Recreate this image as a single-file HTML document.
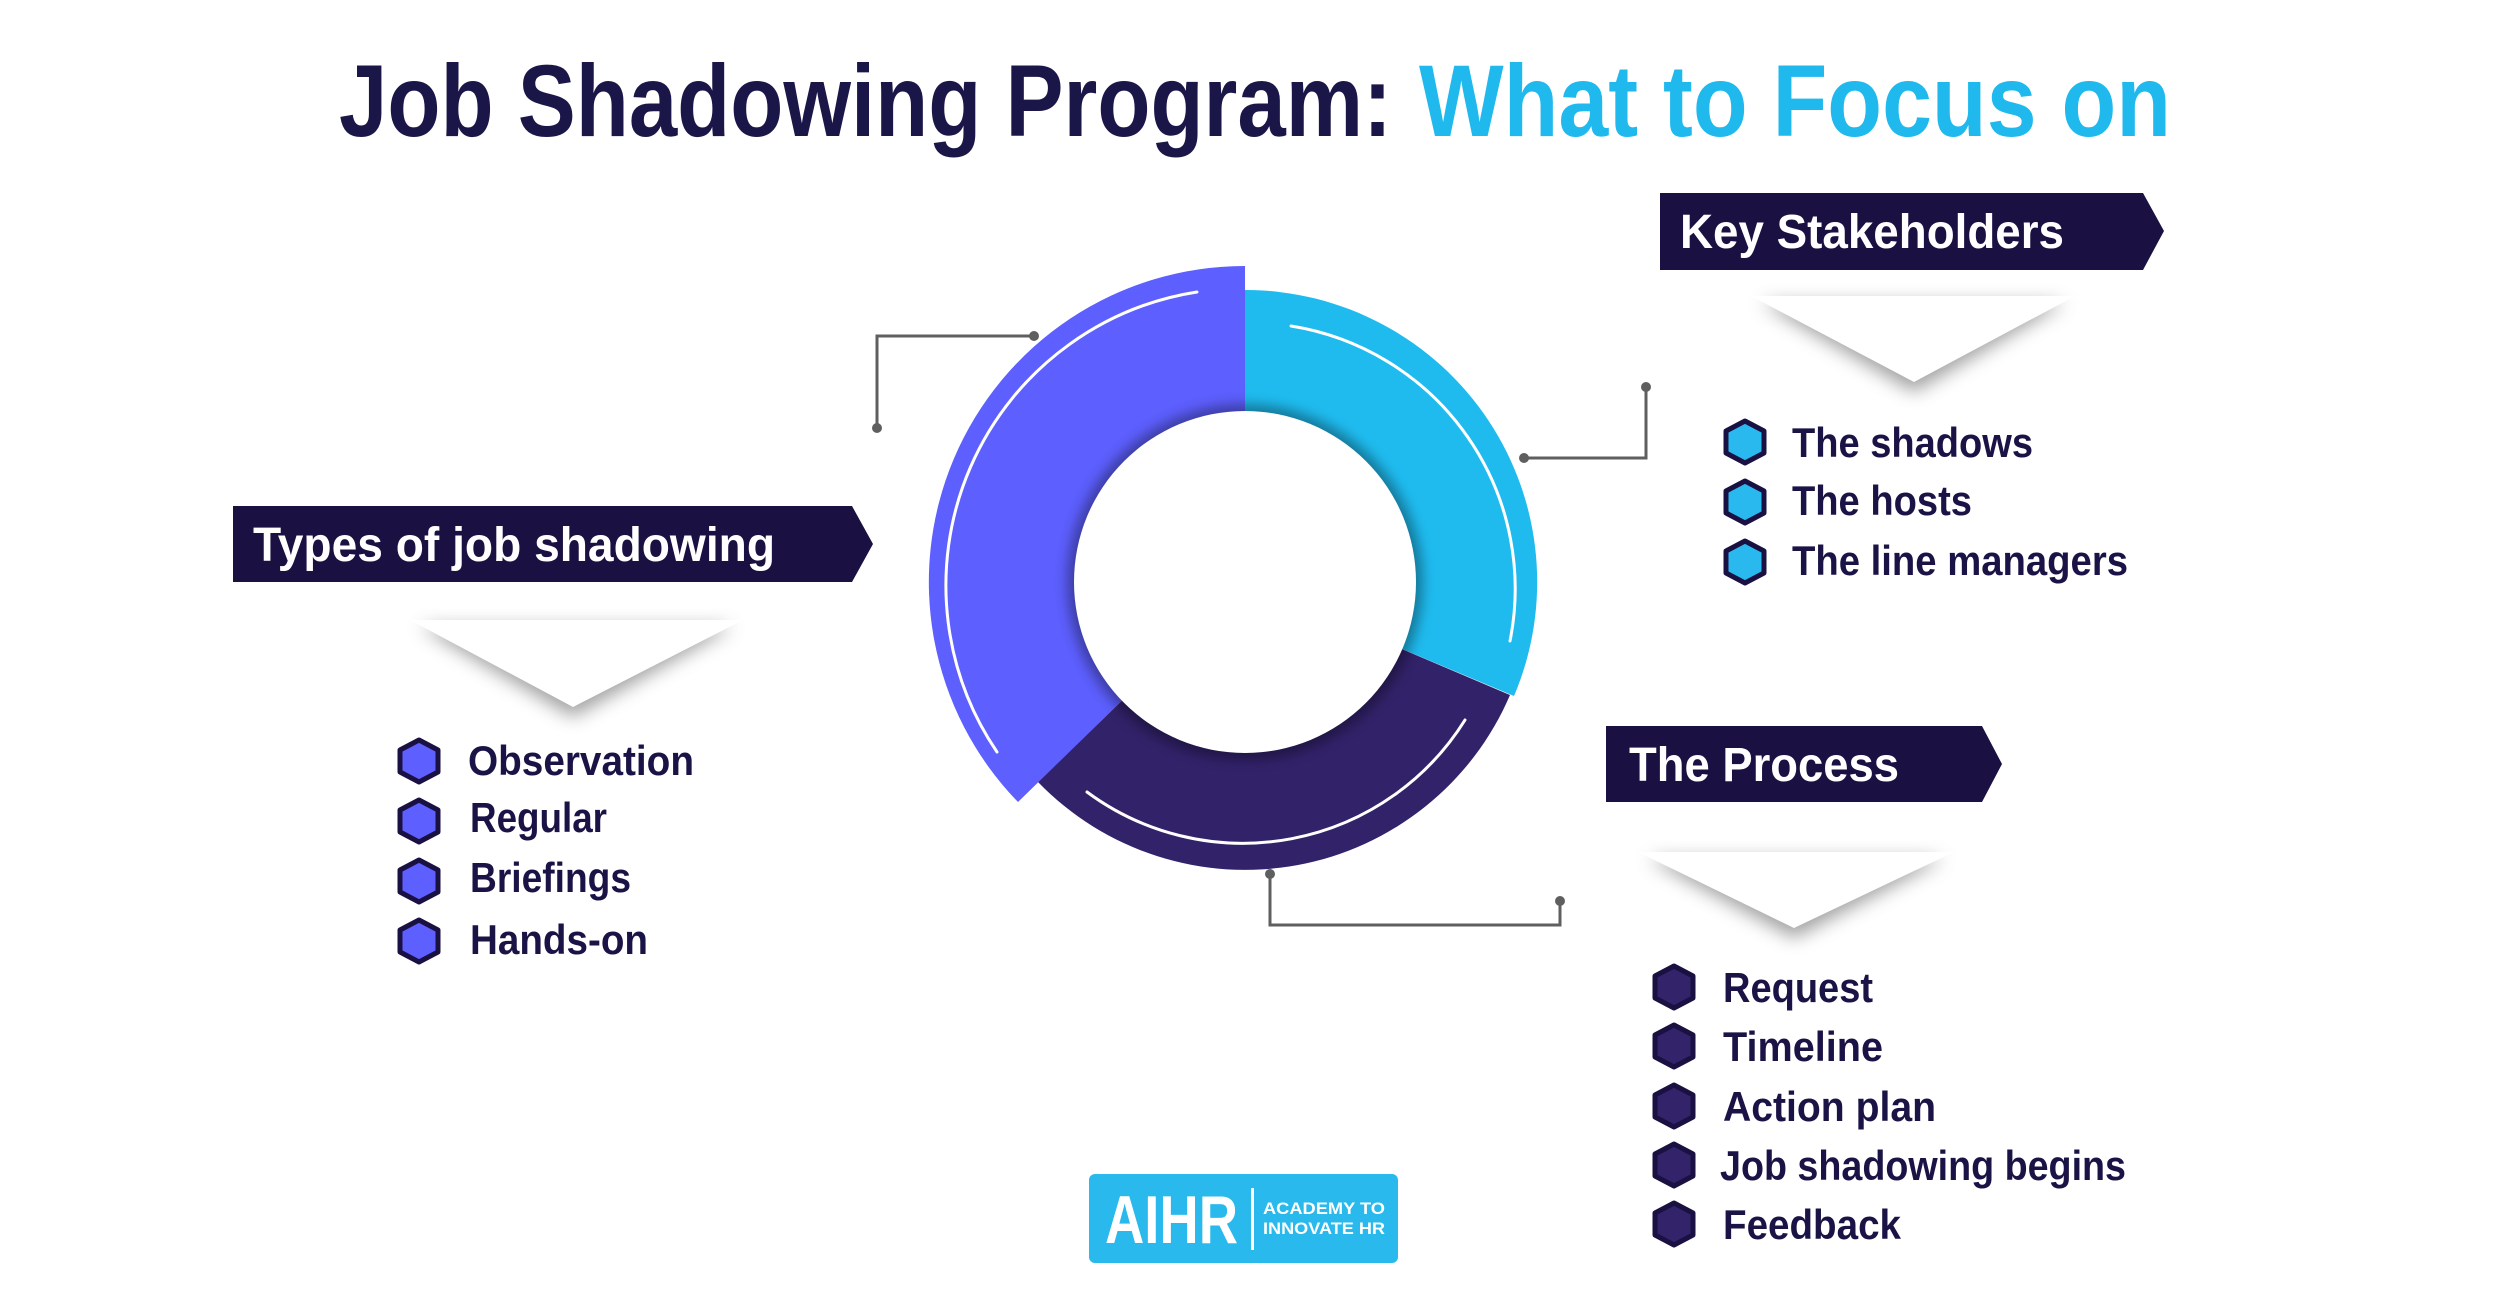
<!DOCTYPE html>
<html><head><meta charset="utf-8"><style>
html,body{margin:0;padding:0;background:#fff;}
svg{display:block;}
text{font-family:"Liberation Sans",sans-serif;font-weight:bold;}
</style></head><body>
<svg width="2501" height="1307" viewBox="0 0 2501 1307" xmlns="http://www.w3.org/2000/svg">
<defs>
<filter id="blur" x="-20%" y="-40%" width="140%" height="180%"><feGaussianBlur stdDeviation="9"/></filter>
<filter id="ish" x="-20%" y="-20%" width="140%" height="140%"><feGaussianBlur stdDeviation="6"/></filter>
<linearGradient id="hs" x1="0" y1="0" x2="0" y2="1"><stop offset="0" stop-color="#fff" stop-opacity="0"/><stop offset="1" stop-color="#000" stop-opacity="0.55"/></linearGradient>
<g id="hexc"><polygon points="0,-21 19,-11 19,11 0,21 -19,11 -19,-11" fill="#2ab9ee" stroke="#1a1142" stroke-width="5" stroke-linejoin="round"/></g>
<g id="hexp"><polygon points="0,-21 19,-11 19,11 0,21 -19,11 -19,-11" fill="#5d5ffe" stroke="#1a1142" stroke-width="5" stroke-linejoin="round"/></g>
<g id="hexd"><polygon points="0,-21 19,-11 19,11 0,21 -19,11 -19,-11" fill="#32236a" stroke="#1a1142" stroke-width="5" stroke-linejoin="round"/></g>
</defs>

<!-- Title -->
<text x="339" y="136" font-size="102" fill="#1b1648" textLength="1053" lengthAdjust="spacingAndGlyphs">Job Shadowing Program:</text>
<text x="1419" y="136" font-size="102" fill="#1fb9ee" textLength="752" lengthAdjust="spacingAndGlyphs">What to Focus on</text>

<!-- Donut -->
<path d="M1510 695 A288 288 0 0 1 1038 782 L1137 686 A150 150 0 0 0 1383 641 Z" fill="#32226a"/>
<path d="M1245 290 A292 292 0 0 1 1514 696 L1383 641 A150 150 0 0 0 1245 432 Z" fill="#1fbbef"/>
<path d="M1245 266 A316 316 0 0 0 1018 802 L1137 686 A150 150 0 0 1 1245 432 Z" fill="#5d5ffe"/>
<circle cx="1245" cy="582" r="178" fill="#000" opacity="0.35" filter="url(#ish)"/>
<circle cx="1245" cy="582" r="171" fill="#fff"/>
<path d="M1197 292 A297 297 0 0 0 997 752" fill="none" stroke="#fff" stroke-width="3" stroke-linecap="round"/>
<path d="M1291 326 A266 266 0 0 1 1510 641" fill="none" stroke="#fff" stroke-width="3" stroke-linecap="round"/>
<path d="M1465 720 A262 262 0 0 1 1087 792" fill="none" stroke="#fff" stroke-width="3" stroke-linecap="round"/>

<!-- Connectors -->
<g fill="none" stroke="#5f5f5f" stroke-width="3">
<polyline points="1034,336 877,336 877,428"/>
<polyline points="1524,458 1646,458 1646,387"/>
<polyline points="1270,874 1270,925 1560,925 1560,901"/>
</g>
<g fill="#5f5f5f">
<circle cx="1034" cy="336" r="5"/><circle cx="877" cy="428" r="5"/>
<circle cx="1524" cy="458" r="5"/><circle cx="1646" cy="387" r="5"/>
<circle cx="1270" cy="874" r="5"/><circle cx="1560" cy="901" r="5"/>
</g>

<!-- Chevron shadows -->
<polygon points="1761,303 2065,303 1914,392" fill="#555" opacity="0.55" filter="url(#blur)"/>
<polygon points="1751,296 2075,296 1914,382" fill="#fff"/>
<polygon points="420,627 733,627 573,717" fill="#555" opacity="0.55" filter="url(#blur)"/>
<polygon points="410,620 743,620 573,707" fill="#fff"/>
<polygon points="1648,859 1944,859 1794,938" fill="#555" opacity="0.55" filter="url(#blur)"/>
<polygon points="1638,852 1954,852 1794,928" fill="#fff"/>

<!-- Banners -->
<polygon points="1660,193 2143,193 2164,231 2143,270 1660,270" fill="#1a1042"/>
<text x="1680" y="248" font-size="48" fill="#fff" textLength="384" lengthAdjust="spacingAndGlyphs">Key Stakeholders</text>
<polygon points="233,506 852,506 873,544 852,582 233,582" fill="#1a1042"/>
<text x="253" y="561" font-size="48" fill="#fff" textLength="522" lengthAdjust="spacingAndGlyphs">Types of job shadowing</text>
<polygon points="1606,726 1982,726 2002,764 1982,802 1606,802" fill="#1a1042"/>
<text x="1629" y="781" font-size="48" fill="#fff" textLength="270" lengthAdjust="spacingAndGlyphs">The Process</text>

<!-- Key stakeholders list -->
<g fill="#1a1446" font-size="42">
<use href="#hexc" x="1745" y="442"/><text x="1792" y="457" textLength="241" lengthAdjust="spacingAndGlyphs">The shadows</text>
<use href="#hexc" x="1745" y="502"/><text x="1792" y="515" textLength="180" lengthAdjust="spacingAndGlyphs">The hosts</text>
<use href="#hexc" x="1745" y="562"/><text x="1792" y="575" textLength="336" lengthAdjust="spacingAndGlyphs">The line managers</text>

<use href="#hexp" x="419" y="761"/><text x="468" y="775" textLength="226" lengthAdjust="spacingAndGlyphs">Observation</text>
<use href="#hexp" x="419" y="821"/><text x="470" y="832" textLength="137" lengthAdjust="spacingAndGlyphs">Regular</text>
<use href="#hexp" x="419" y="881"/><text x="470" y="892" textLength="161" lengthAdjust="spacingAndGlyphs">Briefings</text>
<use href="#hexp" x="419" y="941"/><text x="470" y="954" textLength="178" lengthAdjust="spacingAndGlyphs">Hands-on</text>

<use href="#hexd" x="1674" y="987"/><text x="1723" y="1002" textLength="150" lengthAdjust="spacingAndGlyphs">Request</text>
<use href="#hexd" x="1674" y="1046"/><text x="1723" y="1061" textLength="160" lengthAdjust="spacingAndGlyphs">Timeline</text>
<use href="#hexd" x="1674" y="1106"/><text x="1723" y="1121" textLength="213" lengthAdjust="spacingAndGlyphs">Action plan</text>
<use href="#hexd" x="1674" y="1165"/><text x="1720" y="1180" textLength="406" lengthAdjust="spacingAndGlyphs">Job shadowing begins</text>
<use href="#hexd" x="1674" y="1224"/><text x="1723" y="1239" textLength="178" lengthAdjust="spacingAndGlyphs">Feedback</text>
</g>

<!-- Logo -->
<rect x="1089" y="1174" width="309" height="89" rx="6" fill="#29b9ec"/>
<text x="1105" y="1243" font-size="68" fill="#fff" textLength="133" lengthAdjust="spacingAndGlyphs">AIHR</text>
<rect x="1251" y="1188" width="3" height="62" fill="#fff"/>
<text x="1263" y="1214" font-size="17" fill="#fff" textLength="122" lengthAdjust="spacingAndGlyphs">ACADEMY TO</text>
<text x="1263" y="1234" font-size="17" fill="#fff" textLength="122" lengthAdjust="spacingAndGlyphs">INNOVATE HR</text>
</svg>
</body></html>
